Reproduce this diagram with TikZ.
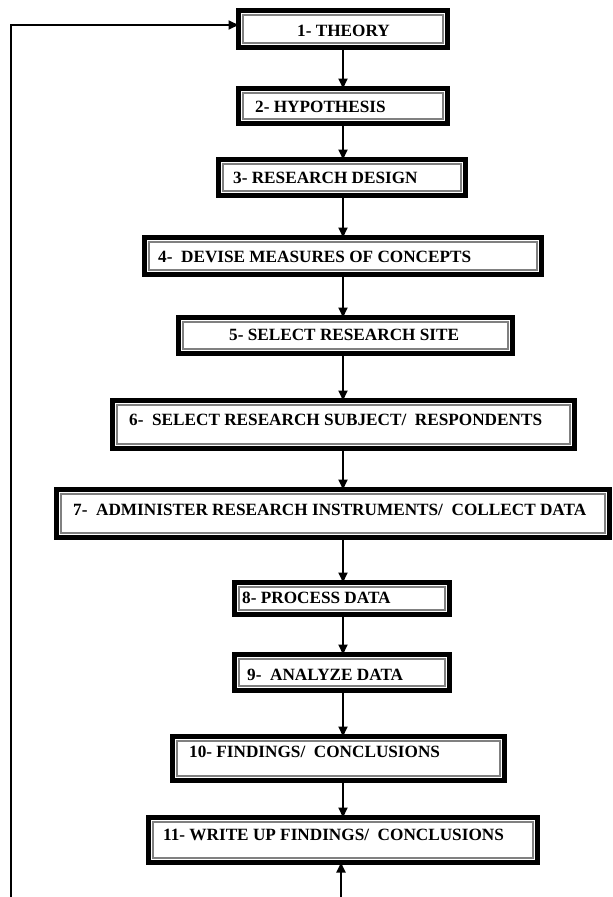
\documentclass[tikz,border=0pt]{standalone}
\usepackage{fontspec}
\setmainfont{Liberation Serif}
\usetikzlibrary{arrows.meta}
\tikzset{
  stepbox/.style={draw=black, line width=5pt, fill=white, inner sep=0pt, outer sep=0pt,
    path picture={\draw[black!50, line width=1.4pt]
      ([shift={(4.6pt,-4.6pt)}]path picture bounding box.north west) rectangle
      ([shift={(-4.6pt,4.6pt)}]path picture bounding box.south east);}},
  lbl/.style={inner sep=0pt, anchor=base west, font=\fontsize{17.2}{20}\selectfont\bfseries},
  arr/.style={draw=black, line width=1.8pt, -{Triangle[width=9pt,length=10pt]}}
}
\begin{document}
\begin{tikzpicture}[x=1pt,y=-1pt]
\useasboundingbox (0,0) rectangle (613,897);
% boxes
\node[stepbox, minimum width=209pt, minimum height=37pt] (b1) at (343,29) {};
\node[stepbox, minimum width=209pt, minimum height=35pt] (b2) at (343,106) {};
\node[stepbox, minimum width=247pt, minimum height=36pt] (b3) at (342,177.5) {};
\node[stepbox, minimum width=397pt, minimum height=37pt] (b4) at (343,256) {};
\node[stepbox, minimum width=334pt, minimum height=36pt] (b5) at (345.5,335.5) {};
\node[stepbox, minimum width=462pt, minimum height=48pt] (b6) at (343.5,424.5) {};
\node[stepbox, minimum width=553pt, minimum height=48pt] (b7) at (333,513.5) {};
\node[stepbox, minimum width=215pt, minimum height=32pt] (b8) at (342,598.5) {};
\node[stepbox, minimum width=215pt, minimum height=36pt] (b9) at (342,672.5) {};
\node[stepbox, minimum width=332pt, minimum height=44pt] (b10) at (338.5,758.5) {};
\node[stepbox, minimum width=389pt, minimum height=45pt] (b11) at (343,840) {};
% labels
\node[lbl] (t1) at (297,36) {1- THEORY};
\node[lbl] (t2) at (255,112) {2- HYPOTHESIS};
\node[lbl] (t3) at (233,183) {3- RESEARCH DESIGN};
\node[lbl] (t4) at (158,262) {4-\ \ DEVISE MEASURES OF CONCEPTS};
\node[lbl] (t5) at (229,340) {5- SELECT RESEARCH SITE};
\node[lbl] (t6) at (129,425) {6-\ \ SELECT RESEARCH SUBJECT/\ \ RESPONDENTS};
\node[lbl] (t7) at (73,515) {7-\ \ ADMINISTER RESEARCH INSTRUMENTS/\ \ COLLECT DATA};
\node[lbl] (t8) at (242,603) {8- PROCESS DATA};
\node[lbl] (t9) at (247,680) {9-\ \ ANALYZE DATA};
\node[lbl] (t10) at (189,757) {10- FINDINGS/\ \ CONCLUSIONS};
\node[lbl] (t11) at (163,840) {11- WRITE UP FINDINGS/\ \ CONCLUSIONS};
% connectors
\coordinate (ax) at (343,0);
\draw[arr] (b1.south -| ax) -- (b2.north -| ax);
\draw[arr] (b2.south -| ax) -- (b3.north -| ax);
\draw[arr] (b3.south -| ax) -- (b4.north -| ax);
\draw[arr] (b4.south -| ax) -- (b5.north -| ax);
\draw[arr] (b5.south -| ax) -- (b6.north -| ax);
\draw[arr] (b6.south -| ax) -- (b7.north -| ax);
\draw[arr] (b7.south -| ax) -- (b8.north -| ax);
\draw[arr] (b8.south -| ax) -- (b9.north -| ax);
\draw[arr] (b9.south -| ax) -- (b10.north -| ax);
\draw[arr] (b10.south -| ax) -- (b11.north -| ax);
% feedback loop
\coordinate (fb) at (11,897);
\coordinate (fy) at (11,25);
\draw[arr] (fb) -- (fy) -- (fy -| b1.west);
\coordinate (bc) at (341,897);
\draw[arr] (bc) -- (bc |- b11.south);
\end{tikzpicture}
\end{document}
